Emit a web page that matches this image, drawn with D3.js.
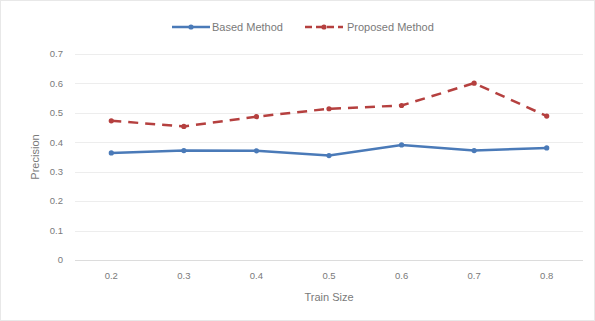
<!DOCTYPE html>
<html>
<head>
<meta charset="utf-8">
<script src="https://cdn.jsdelivr.net/npm/d3@7"></script>
<style>
  body { margin: 0; background: #fff; }
  text { font-family: "Liberation Sans", Arial, sans-serif; fill: #7a7a7a; }
</style>
</head>
<body>
<div id="chart"></div>
<script>
const trainSizes = ['0.2', '0.3', '0.4', '0.5', '0.6', '0.7', '0.8'];
const basedMethod = [0.364, 0.372, 0.371, 0.355, 0.391, 0.372, 0.381];
const proposedMethod = [0.473, 0.454, 0.487, 0.514, 0.525, 0.601, 0.489];
const yTicks = [0, 0.1, 0.2, 0.3, 0.4, 0.5, 0.6, 0.7];

const width = 595, height = 321;
const margin = {top: 54, right: 12, bottom: 61, left: 75};

const svg = d3.select('#chart').append('svg')
    .attr('width', width)
    .attr('height', height);

// outer chart frame
svg.append('rect')
    .attr('x', 0.5).attr('y', 0.5)
    .attr('width', width - 1).attr('height', height - 1)
    .attr('fill', '#fff')
    .attr('stroke', '#e8e8e8');

const x = d3.scaleBand()
    .domain(trainSizes)
    .range([margin.left, width - margin.right]);

const y = d3.scaleLinear()
    .domain([0, 0.7])
    .range([height - margin.bottom, margin.top]);

// gridlines
svg.append('g')
    .selectAll('line')
    .data(yTicks)
  .join('line')
    .attr('x1', margin.left)
    .attr('x2', width - margin.right)
    .attr('y1', d => Math.round(y(d)) + 0.5)
    .attr('y2', d => Math.round(y(d)) + 0.5)
    .attr('stroke', d => d === 0 ? '#dcdcdc' : '#ededed')
    .attr('stroke-width', 1);

// y labels
svg.append('g')
    .selectAll('text')
    .data(yTicks)
  .join('text')
    .attr('x', margin.left - 12)
    .attr('y', d => y(d))
    .attr('dy', '0.35em')
    .attr('text-anchor', 'end')
    .attr('font-size', 9.5)
    .text(d => d === 0 ? '0' : d.toFixed(1));

// x labels
svg.append('g')
    .selectAll('text')
    .data(trainSizes)
  .join('text')
    .attr('x', d => x(d) + x.bandwidth() / 2)
    .attr('y', height - margin.bottom + 16)
    .attr('dy', '0.35em')
    .attr('text-anchor', 'middle')
    .attr('font-size', 9.5)
    .text(d => d);

// axis titles
svg.append('text')
    .attr('x', (margin.left + width - margin.right) / 2)
    .attr('y', 297)
    .attr('dy', '0.35em')
    .attr('text-anchor', 'middle')
    .attr('font-size', 11)
    .text('Train Size');

svg.append('text')
    .attr('transform', `translate(35,${(margin.top + height - margin.bottom) / 2}) rotate(-90)`)
    .attr('dy', '0.35em')
    .attr('text-anchor', 'middle')
    .attr('font-size', 11)
    .text('Precision');

const series = [
  {name: 'Based Method', values: basedMethod, color: '#4a7ab8', dash: null},
  {name: 'Proposed Method', values: proposedMethod, color: '#b5403f', dash: '10,7'}
];

const line = d3.line()
    .x((d, i) => x(trainSizes[i]) + x.bandwidth() / 2)
    .y(d => y(d));

series.forEach(s => {
  svg.append('path')
      .datum(s.values)
      .attr('fill', 'none')
      .attr('stroke', s.color)
      .attr('stroke-width', 2.5)
      .attr('stroke-dasharray', s.dash)
      .attr('d', line);

  svg.append('g')
      .selectAll('circle')
      .data(s.values)
    .join('circle')
      .attr('cx', (d, i) => x(trainSizes[i]) + x.bandwidth() / 2)
      .attr('cy', d => y(d))
      .attr('r', 2.6)
      .attr('fill', s.color);
});

// legend
const legendItems = [
  {x: 172, textX: 212},
  {x: 305, textX: 347}
];
series.forEach((s, i) => {
  const g = svg.append('g').attr('transform', `translate(${legendItems[i].x},27)`);
  g.append('line')
      .attr('x1', 0).attr('x2', 38)
      .attr('stroke', s.color)
      .attr('stroke-width', 2.5)
      .attr('stroke-dasharray', s.dash ? '7,4' : null);
  g.append('circle')
      .attr('cx', 19).attr('r', 2.6)
      .attr('fill', s.color);
  svg.append('text')
      .attr('x', legendItems[i].textX)
      .attr('y', 27)
      .attr('dy', '0.35em')
      .attr('font-size', 11)
      .text(s.name);
});
</script>
</body>
</html>
